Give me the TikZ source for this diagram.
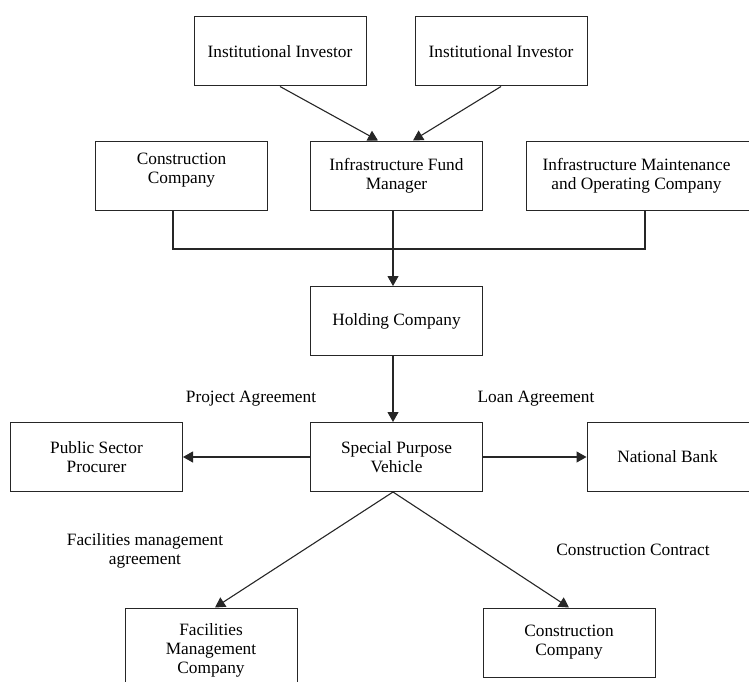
\documentclass[tikz,border=0pt]{standalone}
\usepackage{fontspec}
\setmainfont{Liberation Serif}
\usetikzlibrary{arrows.meta}
\begin{document}
\begin{tikzpicture}[x=1pt,y=-1pt,
  box/.style={draw=black!85,line width=1pt,minimum width=172pt,minimum height=69pt,align=center,inner sep=2pt,font=\fontsize{17.3}{19}\selectfont},
  lbl/.style={align=center,font=\fontsize{17.3}{19}\selectfont},
  conn/.style={draw=black!85,line width=1.1pt},
  arr/.style={conn,-{Triangle[length=10pt,width=11pt]}}]
\useasboundingbox (0,0) rectangle (749,682);
\node[box] (inv1) at (280,51.5) {Institutional Investor};
\node[box] (inv2) at (501,51.5) {Institutional Investor};
\node[box] (cc1) at (181.5,175.5) {Construction\\Company\\[-5pt]\mbox{}};
\node[box] (fm) at (396.5,175.5) {Infrastructure Fund\\Manager};
\node[box,minimum width=225pt] (ims) at (638.5,175.5) {\hspace*{-4pt}Infrastructure Maintenance\\\hspace*{-4pt}and Operating Company};
\node[box] (hc) at (396.5,321) {Holding Company};
\node[box] (spv) at (396.5,457) {Special Purpose\\Vehicle};
\node[box] (psp) at (96.5,457) {Public Sector\\Procurer};
\node[box,minimum width=165pt] (nb) at (669.5,457) {\hspace*{-4pt}National Bank};
\node[box,minimum height=84pt] (fmc) at (211,650) {Facilities\\Management\\Company};
\node[box] (cc2) at (569,642.5) {Construction\\Company};
\node[lbl] (l1) at (251,399) {Project Agreement};
\node[lbl] (l2) at (536,399) {Loan Agreement};
\node[lbl] (l3) at (145,550.5) {Facilities management\\agreement};
\node[lbl] (l4) at (633,550) {Construction Contract};
\coordinate (busL) at (173,249);
\coordinate (busR) at (645,249);
\draw[arr] (inv1.south) -- ([xshift=-18.5]fm.north);
\draw[arr] (inv2.south) -- ([xshift=16.5]fm.north);
\draw[conn] ([xshift=-8.5]cc1.south) -- (busL) -- (busR) -- ([xshift=6.5]ims.south);
\draw[arr] ([xshift=-3.5]fm.south) -- ([xshift=-3.5]hc.north);
\draw[arr] ([xshift=-3.5]hc.south) -- ([xshift=-3.5]spv.north);
\draw[arr] (spv.west) -- (psp.east);
\draw[arr] (spv.east) -- (nb.west);
\draw[arr] ([xshift=-3.5]spv.south) -- ([xshift=4]fmc.north);
\draw[arr] ([xshift=-3.5]spv.south) -- ([xshift=0]cc2.north);
\end{tikzpicture}
\end{document}
